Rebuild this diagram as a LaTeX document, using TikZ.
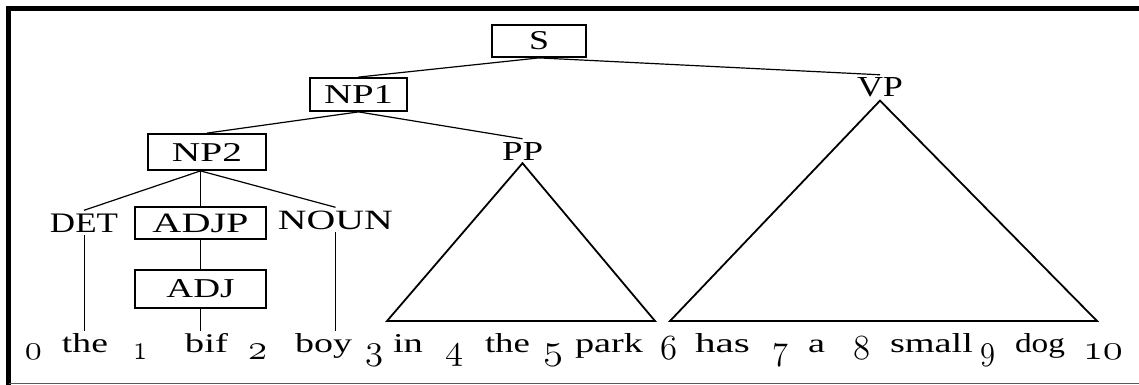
\documentclass[tikz,border=0pt]{standalone}
\usepackage{graphicx}
\usepackage{fontspec}
\setmainfont{Liberation Serif}
\tikzset{
  lab/.style={inner sep=3pt, anchor=base},
  catbox/.style={draw, line width=1.8pt, inner sep=0pt},
  word/.style={inner sep=2pt, anchor=base},
  num/.style={inner sep=0pt, anchor=base, font=\fontsize{24.88}{30}\selectfont},
  edge/.style={line width=1.2pt},
  tri/.style={line width=1.8pt, line join=miter},
  stem/.style={line width=0.9pt},
}
\newcommand{\fitwh}[3]{\resizebox{#1pt}{#2pt}{#3}}
\newcommand{\numw}[2]{\resizebox{#1pt}{1.42\height}{\usefont{OML}{cmm}{m}{it}#2}}
\begin{document}
\begin{tikzpicture}[x=1pt,y=-1pt]
\useasboundingbox (0,0) rectangle (1139,385);
% frame
\draw[line width=5pt] (8.5,385) -- (8.5,8.5) -- (1139,8.5);
\draw[gray!70!black, line width=1pt] (8.5,383.5) -- (1139,383.5);
% category boxes
\node[catbox, minimum width=94pt, minimum height=32pt] (s) at (539,41) {\fitwh{20}{18}{S}};
\node[catbox, minimum width=97pt, minimum height=33pt] (np1) at (358.5,94.5) {\fitwh{69}{18}{NP1}};
\node[catbox, minimum width=118pt, minimum height=36pt] (np2) at (207,152) {\fitwh{70}{18}{NP2}};
\node[catbox, minimum width=131pt, minimum height=32pt] (adjp) at (200.5,223) {\fitwh{96}{18.5}{ADJP}};
\node[catbox, minimum width=131pt, minimum height=38pt] (adj) at (200.5,289) {\fitwh{68}{18}{ADJ}};
% plain labels
\node[lab] (pp) at (522.5,160) {\fitwh{41}{18}{PP}};
\node[lab] (vp) at (880,97) {\fitwh{46}{19}{VP}};
\node[lab] (det) at (84,232) {\fitwh{68}{18.5}{DET}};
\node[lab] (noun) at (335.5,229) {\fitwh{115}{18.5}{NOUN}};
% words
\node[word] (w1) at (85,352) {\fitwh{46}{19}{the}};
\node[word] (w2) at (206.5,352) {\fitwh{43}{19}{bif}};
\node[word] (w3) at (323.5,352) {\fitwh{57}{19}{boy}};
\node[word] (w4) at (408,352) {\fitwh{30}{18}{in}};
\node[word] (w5) at (507.5,352) {\fitwh{45}{19}{the}};
\node[word] (w6) at (609,352) {\fitwh{68}{19}{park}};
\node[word] (w7) at (722.5,352) {\fitwh{55}{19}{has}};
\node[word] (w8) at (816.5,352) {\fitwh{17}{12.5}{a}};
\node[word] (w9) at (931.5,352) {\fitwh{83}{19}{small}};
\node[word] (w10) at (1040,352) {\fitwh{50}{19}{dog}};
% positions
\node[num] (n0) at (33.5,359) {\numw{17}{0}};
\node[num] (n1) at (140,359) {\numw{14}{1}};
\node[num] (n2) at (257.5,359) {\numw{19}{2}};
\node[num] (n3) at (374,359) {\numw{18}{3}};
\node[num] (n4) at (454,359) {\numw{18}{4}};
\node[num] (n5) at (553,359) {\numw{20}{5}};
\node[num] (n6) at (668.5,359) {\numw{17}{6}};
\node[num] (n7) at (780,359) {\numw{16}{7}};
\node[num] (n8) at (861.5,359) {\numw{17}{8}};
\node[num] (n9) at (987.5,359) {\numw{15}{9}};
\node[num] (n10) at (1103,359) {\numw{40}{10}};
% tree edges
\draw[edge] (s.south) -- (np1.north);
\draw[edge] (s.south) -- (vp.north);
\draw[edge] (np1.south) -- (np2.north);
\draw[edge] (np1.south) -- (pp.north);
\coordinate (np2s) at (adjp.north |- np2.south);
\draw[edge] (np2s) -- (det.north);
\draw[edge] (np2s) -- (adjp.north);
\draw[edge] (np2s) -- (noun.north);
\draw[stem] (adjp.south) -- (adj.north);
\draw[stem] (adj.south) -- (adj.south |- w2.north);
\draw[stem] (det.south) -- (det.south |- w1.north);
\draw[stem] (noun.south) -- (noun.south |- w3.north);
% triangles
\coordinate (ppl) at (387,321);
\coordinate (ppr) at (655,321);
\coordinate (vpl) at (670,321);
\coordinate (vpr) at (1097,321);
\draw[tri] (pp.south) -- (ppl) -- (ppr) -- cycle;
\draw[tri] (vp.south) -- (vpl) -- (vpr) -- cycle;
\end{tikzpicture}
\end{document}
